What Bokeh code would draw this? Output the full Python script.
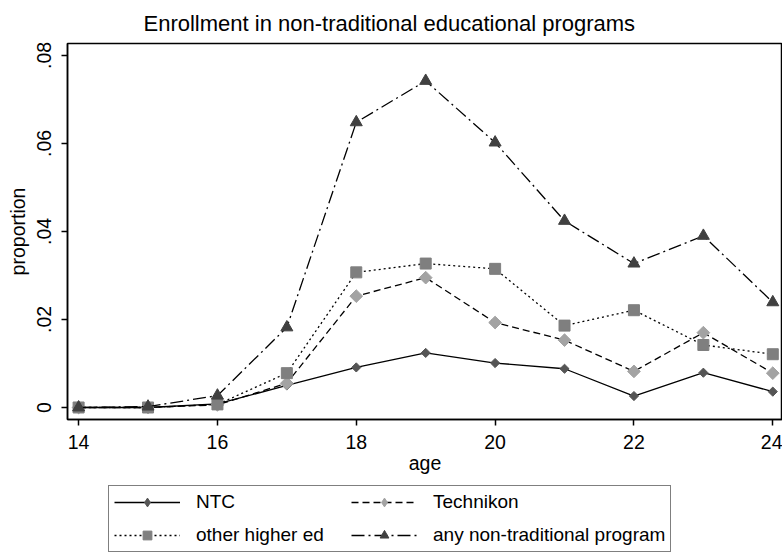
import numpy as np
from bokeh.plotting import figure
from bokeh.layouts import column
from bokeh.models import Legend, LegendItem, FixedTicker, Range1d
from bokeh.embed import file_html
from bokeh.resources import INLINE

age = [14, 15, 16, 17, 18, 19, 20, 21, 22, 23, 24]
ntc = [0.0, 0.0, 0.0008, 0.0050, 0.0091, 0.0124, 0.0101, 0.0088, 0.0026, 0.0079, 0.0036]
technikon = [0.0, 0.0, 0.0006, 0.0055, 0.0253, 0.0295, 0.0193, 0.0153, 0.0082, 0.0170, 0.0078]
other_higher = [0.0, 0.0, 0.0007, 0.0078, 0.0307, 0.0327, 0.0315, 0.0186, 0.0221, 0.0142, 0.0121]
any_program = [0.0, 0.0002, 0.0027, 0.0182, 0.0648, 0.0742, 0.0602, 0.0424, 0.0327, 0.0390, 0.0239]

x_ticks = [14, 16, 18, 20, 22, 24]
y_ticks = [0, 0.02, 0.04, 0.06, 0.08]
y_tick_labels = ["0", ".02", ".04", ".06", ".08"]
series_names = ["NTC", "Technikon", "other higher ed", "any non-traditional program"]

FONT = "Liberation Sans"
TOP, FRAME_H, BOTTOM = 41, 376, 60
MAIN_H = TOP + FRAME_H + BOTTOM
TOTAL_H = 552

p = figure(frame_width=715, frame_height=FRAME_H, output_backend="svg", toolbar_location=None,
           x_range=Range1d(13.84, 24.14), y_range=Range1d(-0.00273, 0.0827),
           min_border_left=67, min_border_right=0, min_border_top=TOP, min_border_bottom=BOTTOM,
           title="Enrollment in non-traditional educational programs")
p.title.text_font = FONT
p.title.text_font_size = "22px"
p.title.text_font_style = "normal"
p.title.text_color = "black"
p.title.align = "left"
p.title.offset = 76
p.title.standoff = 16

p.grid.visible = False
p.outline_line_color = "black"
p.outline_line_width = 1.5
p.background_fill_color = "white"
p.border_fill_color = "white"

for ax in (p.xaxis[0], p.yaxis[0]):
    ax.axis_line_color = "black"
    ax.axis_line_width = 1.5
    ax.major_tick_line_color = "black"
    ax.major_tick_line_width = 1.5
    ax.major_tick_out = 6
    ax.major_tick_in = 0
    ax.minor_tick_line_color = None
    ax.major_label_text_font = FONT
    ax.major_label_text_font_size = "19.5px"
    ax.major_label_text_color = "black"
    ax.axis_label_text_font = FONT
    ax.axis_label_text_font_size = "19.5px"
    ax.axis_label_text_font_style = "normal"
    ax.axis_label_text_color = "black"

p.xaxis.ticker = FixedTicker(ticks=x_ticks)
p.xaxis.axis_label = "age"
p.xaxis.major_label_standoff = 9
p.xaxis.axis_label_standoff = 0

p.yaxis.ticker = FixedTicker(ticks=y_ticks)
p.yaxis.major_label_overrides = {t: l for t, l in zip(y_ticks, y_tick_labels)}
p.yaxis.major_label_orientation = "vertical"
p.yaxis.axis_label = "proportion"
p.yaxis.major_label_standoff = 10
p.yaxis.axis_label_standoff = 6

styles = [
    dict(dash="solid", marker="square", angle=np.pi / 4, size=6.5, color="#555555",
         leg_marker="diamond", leg_size=10),
    dict(dash="7 4", marker="square", angle=np.pi / 4, size=9, color="#a3a3a3",
         leg_marker="diamond", leg_size=14),
    dict(dash="2 3", marker="square", angle=0, size=11, color="#7f7f7f",
         leg_marker="square", leg_size=11),
    dict(dash="13 4 2 4", marker="triangle", angle=0, size=12, color="#404040",
         leg_marker="triangle", leg_size=12),
]
data = [ntc, technikon, other_higher, any_program]

for ys, st in zip(data, styles):
    p.line(age, ys, line_color="black", line_width=1.3, line_dash=st["dash"])
    p.scatter(age, ys, marker=st["marker"], angle=st["angle"], size=st["size"],
              fill_color=st["color"], line_color=st["color"])

# legend strip below the graph: its renderers hold the series but lie outside
# this strip's ranges, so only the legend samples show
leg_h = TOTAL_H - MAIN_H
q = figure(width=782, height=leg_h, output_backend="svg", toolbar_location=None,
           x_range=Range1d(0, 1), y_range=Range1d(0, 1),
           min_border_left=0, min_border_right=0, min_border_top=0, min_border_bottom=0)
q.axis.visible = False
q.grid.visible = False
q.outline_line_color = None
q.background_fill_color = "white"
q.border_fill_color = "white"

items = []
for name, ys, st in zip(series_names, data, styles):
    ln = q.line(age, ys, line_color="black", line_width=1.3, line_dash=st["dash"])
    sc = q.scatter(age, ys, marker=st["leg_marker"], size=st["leg_size"],
                   fill_color=st["color"], line_color=st["color"])
    items.append(LegendItem(label=name, renderers=[ln, sc]))

# row-major order: NTC, Technikon / other higher ed, any program
ordered = [items[0], items[2], items[1], items[3]]
legend = Legend(items=ordered, ncols=2, location=(41, 2))
legend.label_text_font = FONT
legend.label_text_font_size = "19px"
legend.label_text_color = "black"
legend.glyph_width = 66
legend.glyph_height = 22
legend.label_height = 22
legend.label_width = 144
legend.label_standoff = 16
legend.spacing = 11
legend.padding = 5
legend.margin = 0
legend.border_line_color = "black"
legend.border_line_width = 1.5
legend.background_fill_color = "white"
q.add_layout(legend, "center")

layout = column(p, q, spacing=0)
open("out.html", "w").write(file_html(layout, INLINE))
